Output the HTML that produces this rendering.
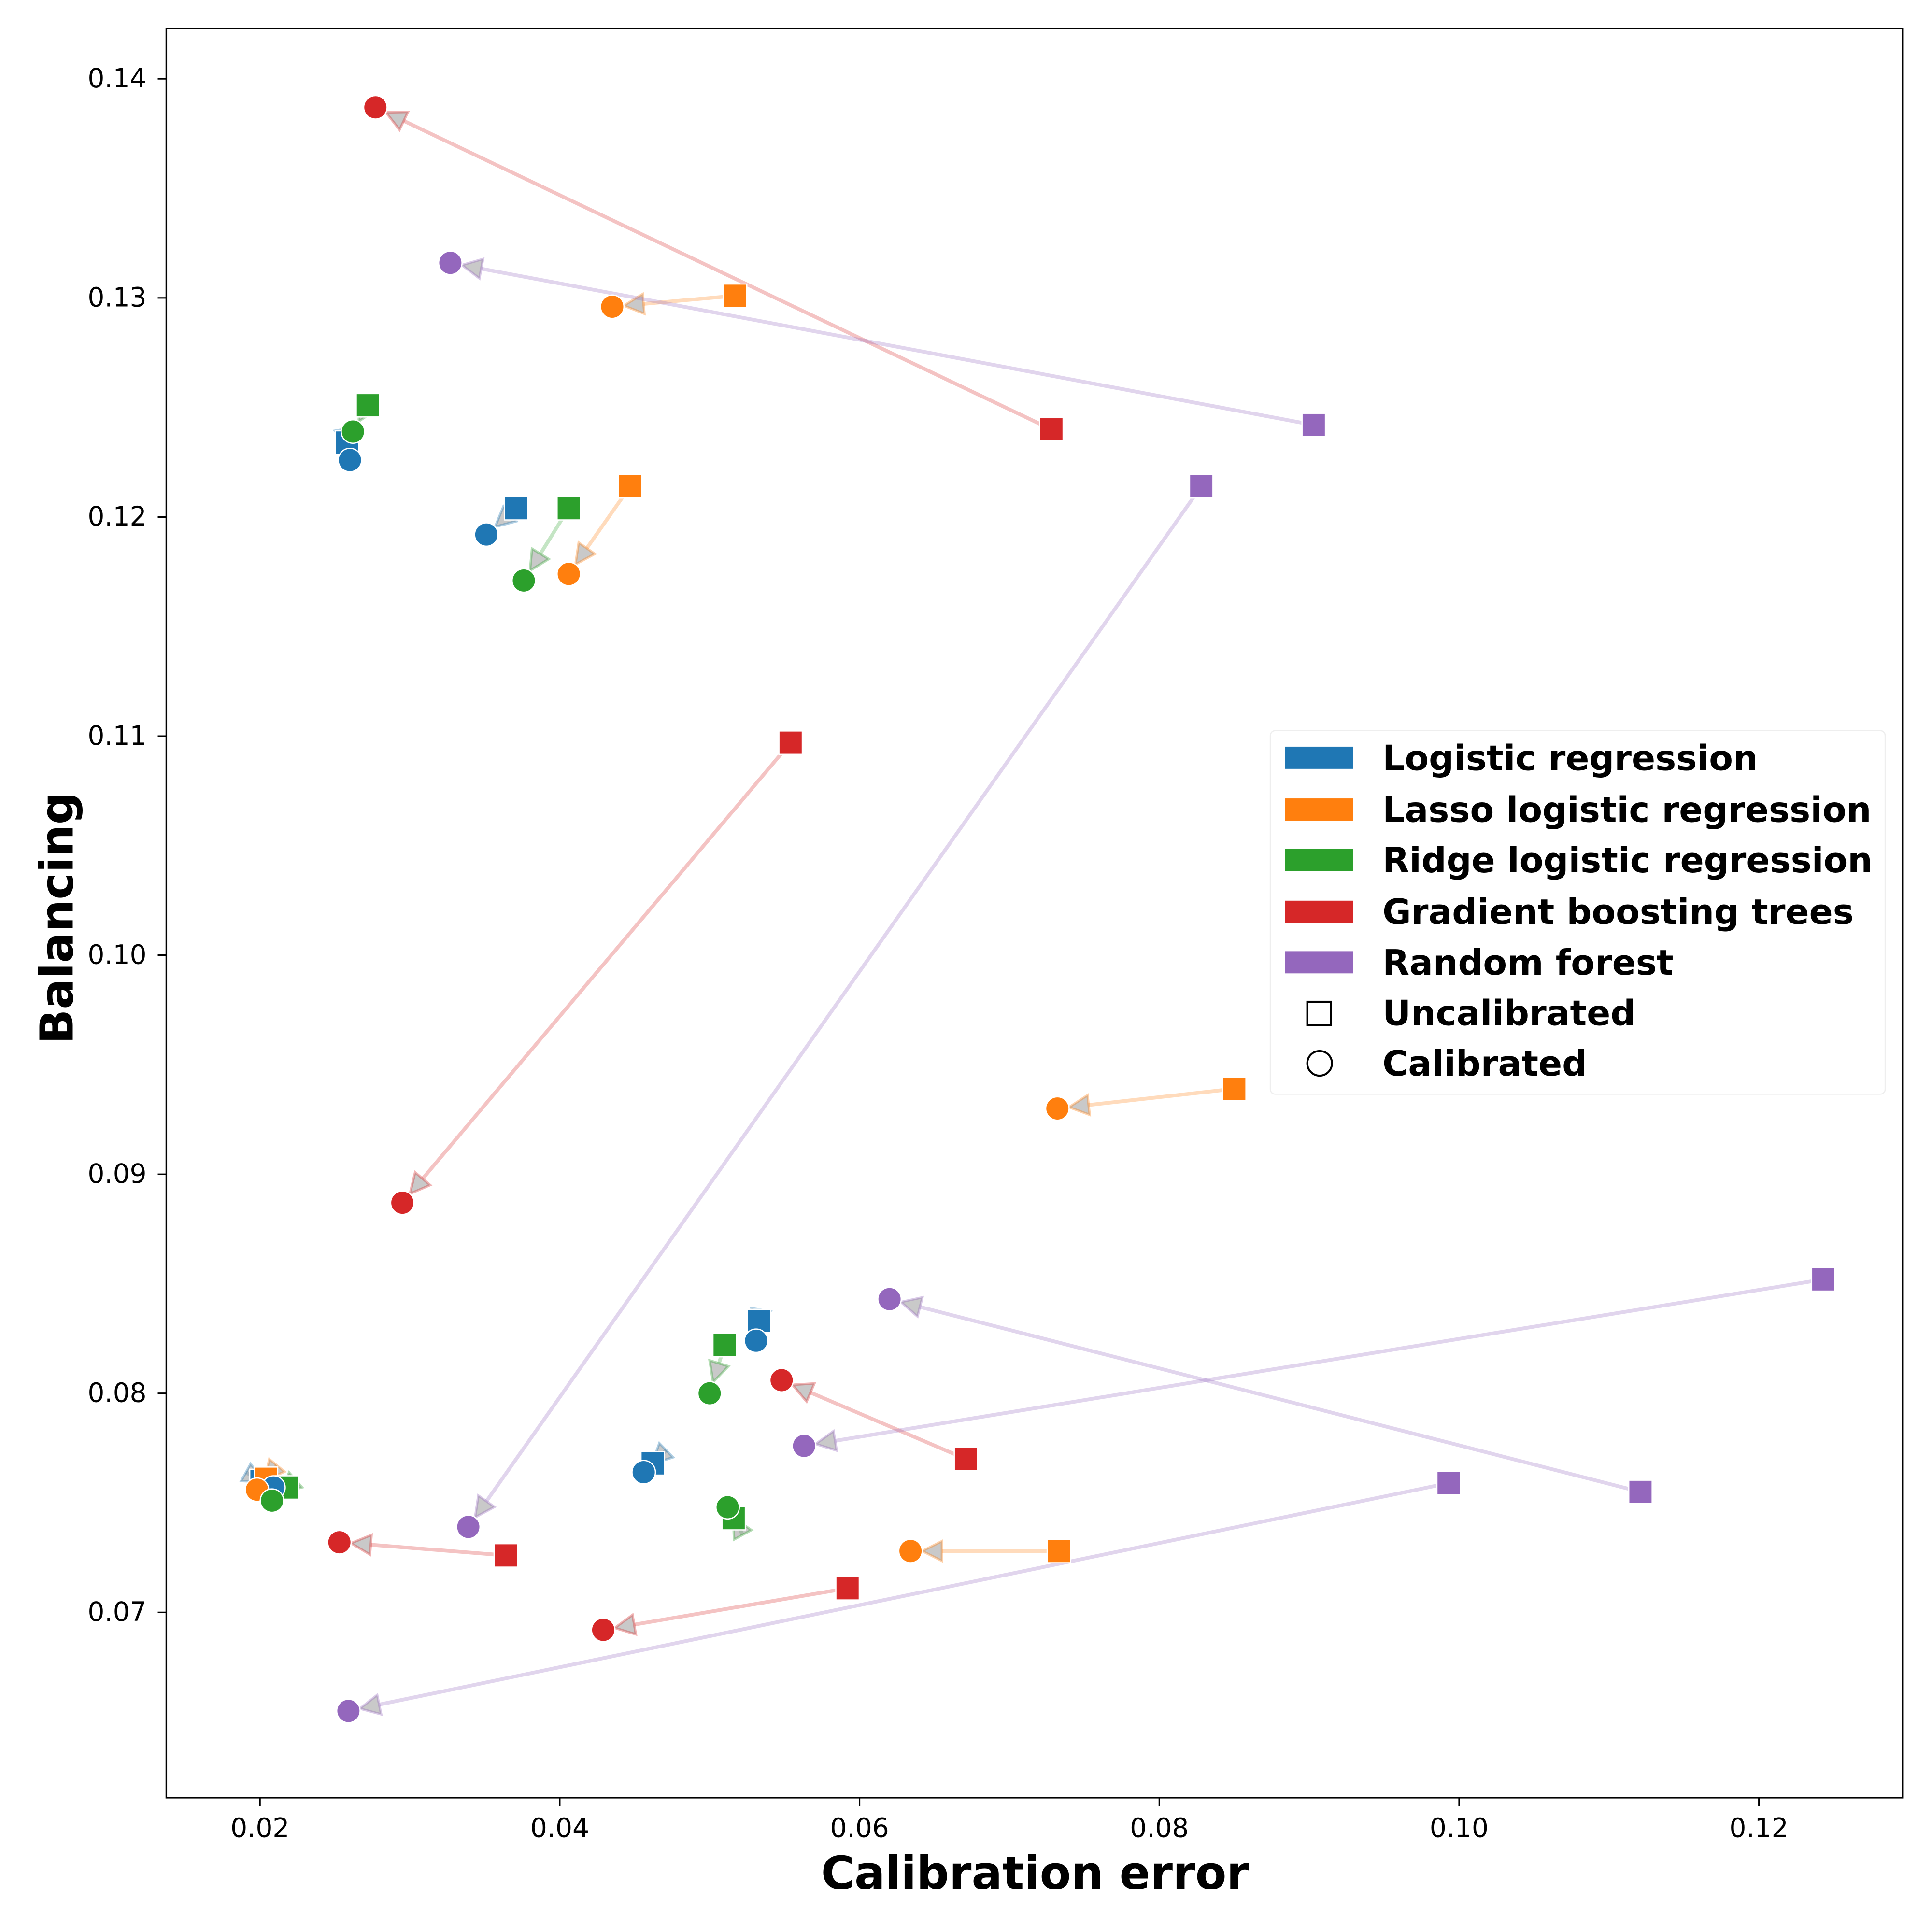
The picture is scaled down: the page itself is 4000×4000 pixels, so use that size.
<!DOCTYPE html>
<html><head><meta charset="utf-8"><style>
html,body{margin:0;padding:0;background:#fff}
svg{display:block}
text{font-family:"DejaVu Sans","Liberation Sans",sans-serif}
</style></head><body>
<svg id="chart" width="4000" height="4000" viewBox="0 0 1568 1568" xmlns="http://www.w3.org/2000/svg">
<rect x="0" y="0" width="1568" height="1568" fill="#fff"/>
<g id="marks"></g>
<rect x="135" y="23" width="1409" height="1436" fill="none" stroke="#000" stroke-width="1.3"/>
<g id="axes"></g>
<text x="840" y="1533" text-anchor="middle" font-size="37" font-weight="bold">Calibration error</text>
<text x="0" y="0" transform="translate(59,745) rotate(-90)" text-anchor="middle" font-size="37" font-weight="bold">Balancing</text>
<g id="legend">
<rect x="1031" y="593" width="499" height="295" rx="4" fill="#fff" fill-opacity="0.8" stroke="#eee"/>
</g>
</svg>
<script>
const models = ["Logistic regression","Lasso logistic regression","Ridge logistic regression","Gradient boosting trees","Random forest"];
const colors = ["#1f77b4","#ff7f0e","#2ca02c","#d62728","#9467bd"];
const uncalX = [
 [0.0258,0.0371,0.0533,0.0462,0.0201],
 [0.0517,0.0447,0.0850,0.0733,0.0204],
 [0.0272,0.0406,0.0510,0.0516,0.0218],
 [0.0728,0.0554,0.0671,0.0364,0.0592],
 [0.0903,0.0828,0.1243,0.1121,0.0993]];
const uncalY = [
 [0.1234,0.1204,0.0833,0.0768,0.0760],
 [0.1301,0.1214,0.0939,0.0728,0.0761],
 [0.1251,0.1204,0.0822,0.0743,0.0757],
 [0.1240,0.1097,0.0770,0.0726,0.0711],
 [0.1242,0.1214,0.0852,0.0755,0.0759]];
const calX = [
 [0.0260,0.0351,0.0531,0.0456,0.0209],
 [0.0435,0.0406,0.0732,0.0634,0.0198],
 [0.0262,0.0376,0.0500,0.0512,0.0208],
 [0.0277,0.0295,0.0548,0.0253,0.0429],
 [0.0327,0.0339,0.0563,0.0620,0.0259]];
const calY = [
 [0.1226,0.1192,0.0824,0.0764,0.0757],
 [0.1296,0.1174,0.0930,0.0728,0.0756],
 [0.1239,0.1171,0.0800,0.0748,0.0751],
 [0.1387,0.0887,0.0806,0.0732,0.0692],
 [0.1316,0.0739,0.0776,0.0843,0.0655]];
const xTicks = [0.02,0.04,0.06,0.08,0.10,0.12];
const xTickLabels = ["0.02","0.04","0.06","0.08","0.10","0.12"];
const yTicks = [0.07,0.08,0.09,0.10,0.11,0.12,0.13,0.14];
const yTickLabels = ["0.07","0.08","0.09","0.10","0.11","0.12","0.13","0.14"];

const NS="http://www.w3.org/2000/svg";
function sx(v){return 211+(v-0.02)/0.02*243.3;}
function sy(v){return 64+(0.14-v)/0.01*177.8;}
function mk(tag,attrs,parent){const e=document.createElementNS(NS,tag);for(const k in attrs)e.setAttribute(k,attrs[k]);parent.appendChild(e);return e;}

const axes=document.getElementById('axes');
xTicks.forEach((t,i)=>{
 const l=mk('line',{x1:sx(t),x2:sx(t),y1:1459,y2:1466,stroke:'#000','stroke-width':1.2},axes);
 
 
 const tx=mk('text',{x:sx(t),y:1491,'text-anchor':'middle','font-size':21.5},axes);
 tx.textContent=xTickLabels[i];
 
 
});
yTicks.forEach((t,i)=>{
 const l=mk('line',{x1:128,x2:135,y1:sy(t),y2:sy(t),stroke:'#000','stroke-width':1.2},axes);
 
 
 const tx=mk('text',{x:119,y:sy(t)+7,'text-anchor':'end','font-size':21.5},axes);
 tx.textContent=yTickLabels[i];
 
 
});

const marks=document.getElementById('marks');
const R=9.5;
for(let m=0;m<models.length;m++){
 for(let k=0;k<uncalX[m].length;k++){
  const x1=sx(uncalX[m][k]),y1=sy(uncalY[m][k]),x2=sx(calX[m][k]),y2=sy(calY[m][k]);
  const dx=x2-x1,dy=y2-y1,L=Math.hypot(dx,dy)||1,ux=dx/L,uy=dy/L;
  const tipX=x2-ux*R,tipY=y2-uy*R;
  const bX=tipX-ux*16,bY=tipY-uy*16;
  const ln=mk('line',{x1:x1,y1:y1,x2:bX,y2:bY,stroke:colors[m],'stroke-width':3,'stroke-opacity':0.28},marks);
  
  
  const px=-uy*8,py=ux*8;
  const head=mk('polygon',{points:`${tipX},${tipY} ${bX+px},${bY+py} ${bX-px},${bY-py}`,fill:'#888','fill-opacity':0.45,stroke:colors[m],'stroke-opacity':0.35,'stroke-width':2},marks);
  
  
 }
}
for(let m=0;m<models.length;m++){
 for(let k=0;k<uncalX[m].length;k++){
  const x=sx(uncalX[m][k]),y=sy(uncalY[m][k]);
  const s=mk('rect',{x:x-9.5,y:y-9.5,width:19,height:19,fill:colors[m],stroke:'#fff','stroke-width':1},marks);
  
  
 }
}
for(let m=0;m<models.length;m++){
 for(let k=0;k<calX[m].length;k++){
  const c=mk('circle',{cx:sx(calX[m][k]),cy:sy(calY[m][k]),r:R,fill:colors[m],stroke:'#fff','stroke-width':1},marks);
  
  
 }
}

const legend=document.getElementById('legend');
const rowY=[615,657,698,740,781,822,863];
models.forEach((name,i)=>{
 const r=mk('rect',{x:1043,y:rowY[i]-9,width:55,height:18,fill:colors[i]},legend);
 
 
 const t=mk('text',{x:1122,y:rowY[i]+10,'font-size':28.4,'font-weight':'bold'},legend);
 t.textContent=name;
 
 
});
const sq=mk('rect',{x:1061,y:rowY[5]-9,width:19,height:19,fill:'none',stroke:'#000','stroke-width':1.6},legend);


const t5=mk('text',{x:1122,y:rowY[5]+10,'font-size':28.4,'font-weight':'bold'},legend);
t5.textContent='Uncalibrated';


const ci=mk('circle',{cx:1071,cy:rowY[6],r:10,fill:'none',stroke:'#000','stroke-width':1.6},legend);


const t6=mk('text',{x:1122,y:rowY[6]+10,'font-size':28.4,'font-weight':'bold'},legend);
t6.textContent='Calibrated';


</script>
</body></html>
